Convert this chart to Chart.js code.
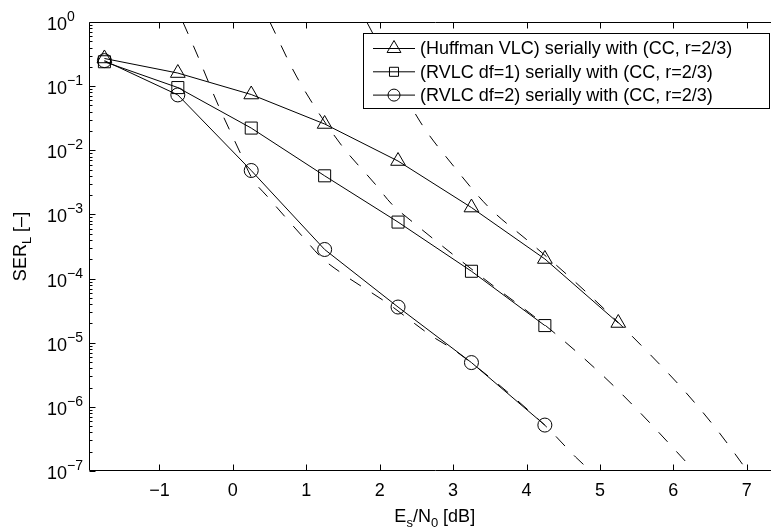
<!DOCTYPE html>
<html lang="en">
<head>
<meta charset="UTF-8">
<title>SER vs Es/N0</title>
<script src="https://cdn.jsdelivr.net/npm/chart.js"></script>
<style>
  html, body { margin: 0; padding: 0; background: #fff; overflow: hidden; }
  canvas { display: block; }
</style>
</head>
<body>
<canvas id="chart" width="790" height="530"></canvas>
<script>
// measured points, Es/N0 in dB
const snr = [-1.75, -0.75, 0.25, 1.25, 2.25, 3.25, 4.25, 5.25];
const serHuffman = [0.27, 0.16, 0.074, 0.0257, 0.0068, 0.00128, 2.02e-4, 2.03e-5];
const serRvlc1 = [0.24, 0.095, 0.0222, 0.0040, 7.6e-4, 1.3e-4, 1.85e-5];
const serRvlc2 = [0.25, 0.073, 0.00484, 2.84e-4, 3.6e-5, 4.9e-6, 5.2e-7];

// dashed bound curves
const boundHuffmanX = [1.824, 2.545, 2.994, 3.484, 4.042, 4.587, 5.131, 5.649, 6.152, 6.615, 7.01];
const boundHuffmanY = [1, 0.0286, 0.0059, 0.0013, 3.7e-4, 1.06e-4, 2.8e-5, 7.2e-6, 1.77e-6, 4.1e-7, 1e-7];
const boundRvlc1X = [0.504, 0.871, 1.456, 1.946, 2.164, 2.45, 3.389, 4.247, 5.05, 5.553, 6.288];
const boundRvlc1Y = [1, 0.139, 0.013, 0.0029, 0.00145, 7.6e-4, 1.06e-4, 1.9e-5, 3.0e-6, 8.0e-7, 1e-7];
const boundRvlc2X = [-0.681, -0.49, -0.218, 0.095, 0.259, 0.476, 0.966, 1.211, 1.497, 2.096, 2.709, 3.035, 4.247, 4.669, 4.873];
const boundRvlc2Y = [1, 0.317, 0.0566, 0.0094, 0.0037, 0.00187, 4.3e-4, 2.1e-4, 1.18e-4, 4.2e-5, 1.27e-5, 7.4e-6, 5.2e-7, 1.65e-7, 1e-7];

const seriesLabels = [
  '(Huffman VLC) serially with (CC, r=2/3)',
  '(RVLC df=1) serially with (CC, r=2/3)',
  '(RVLC df=2) serially with (CC, r=2/3)'
];
const xTicks = [-1, 0, 1, 2, 3, 4, 5, 6, 7];
const yExps = [0, -1, -2, -3, -4, -5, -6, -7];

const FONT = '"Liberation Sans", Arial, Helvetica, sans-serif';
const MINUS = '\u2212';
const fmt = v => (v < 0 ? MINUS + Math.abs(v) : String(v));

const pts = (xs, ys) => ys.map((v, i) => ({ x: xs[i], y: v }));

function seriesSet(label, data, style, radius) {
  return {
    label, data, showLine: true,
    borderColor: '#000', borderWidth: 1,
    pointStyle: style, pointRadius: radius,
    pointBorderColor: '#000', pointBorderWidth: 1,
    pointBackgroundColor: 'rgba(0,0,0,0)',
    legendRadius: style === 'rect' ? 6.4 : style === 'circle' ? 6 : 8
  };
}
function boundSet(data) {
  return {
    data, showLine: true, borderColor: '#000', borderWidth: 1,
    borderDash: [13, 13], pointRadius: 0, cubicInterpolationMode: 'monotone'
  };
}

// axes box, inward ticks, labels, titles and legend in matlab style
const matlabFrame = {
  id: 'matlabFrame',
  afterDraw(chart) {
    const { ctx, chartArea: a, scales: { x, y } } = chart;
    const L = Math.round(a.left) + 0.5, T = Math.round(a.top) + 0.5;
    const R = Math.round(a.right) + 0.5, B = Math.round(a.bottom) - 0.5;
    ctx.save();
    ctx.strokeStyle = '#000';
    ctx.lineWidth = 1;
    ctx.beginPath();
    ctx.moveTo(L, T); ctx.lineTo(R, T); ctx.lineTo(R, B); ctx.lineTo(L, B); ctx.closePath();
    xTicks.forEach(v => {
      const px = Math.round(x.getPixelForValue(v)) + 0.5;
      ctx.moveTo(px, B); ctx.lineTo(px, B - 6);
      ctx.moveTo(px, T); ctx.lineTo(px, T + 6);
    });
    yExps.forEach(e => {
      const py = Math.round(y.getPixelForValue(Math.pow(10, e))) + 0.5;
      ctx.moveTo(L, py); ctx.lineTo(L + 6, py);
      if (e > yExps[yExps.length - 1]) {
        for (let m = 2; m <= 9; m++) {
          const my = Math.round(y.getPixelForValue(m * Math.pow(10, e - 1))) + 0.5;
          ctx.moveTo(L, my); ctx.lineTo(L + 3, my);
        }
      }
    });
    ctx.stroke();

    ctx.fillStyle = '#000';
    // x tick labels
    ctx.font = '18px ' + FONT;
    ctx.textAlign = 'center';
    ctx.textBaseline = 'alphabetic';
    xTicks.forEach(v => ctx.fillText(fmt(v), x.getPixelForValue(v), 496));
    // y tick labels 10^e
    ctx.textAlign = 'left';
    yExps.forEach(e => {
      const py = y.getPixelForValue(Math.pow(10, e));
      ctx.font = '18px ' + FONT;
      ctx.fillText('10', 47, py + 8);
      const w = ctx.measureText('10').width;
      ctx.font = '14px ' + FONT;
      ctx.fillText(fmt(e), 47 + w, py - 1);
    });

    // x title  E_s/N_0 [dB]
    const xParts = [['E', 18, 0], ['s', 13, 5], ['/N', 18, 0], ['0', 13, 5], [' [dB]', 18, 0]];
    drawParts(ctx, xParts, (a.left + a.right) / 2, 522);
    // y title  SER_L [-]
    ctx.save();
    ctx.translate(26, (a.top + a.bottom) / 2);
    ctx.rotate(-Math.PI / 2);
    drawParts(ctx, [['SER', 18, 0], ['L', 13, 5], [' [\u2013]', 18, 0]], 0, 0);
    ctx.restore();

    // legend
    const bx = 363.5, by = 33.5, bw = 406, bh = 75;
    ctx.fillStyle = '#fff';
    ctx.fillRect(bx, by, bw, bh);
    ctx.strokeRect(bx, by, bw, bh);
    const sets = chart.data.datasets.filter(d => d.label);
    sets.forEach((d, i) => {
      const ry = 48.5 + i * 23.3;
      ctx.beginPath();
      ctx.moveTo(373, ry); ctx.lineTo(415, ry);
      ctx.stroke();
      ctx.fillStyle = 'rgba(0,0,0,0)';
      Chart.helpers.drawPoint(ctx, { pointStyle: d.pointStyle, radius: d.legendRadius, rotation: 0, borderWidth: 1 }, 394, ry);
      ctx.fillStyle = '#000';
      ctx.font = '18px ' + FONT;
      ctx.textAlign = 'left';
      ctx.textBaseline = 'middle';
      ctx.fillText(d.label, 420, ry + 1);
    });
    ctx.restore();
  }
};

function drawParts(ctx, parts, cx, baseY) {
  ctx.textAlign = 'left';
  ctx.textBaseline = 'alphabetic';
  let total = 0;
  parts.forEach(p => { ctx.font = p[1] + 'px ' + FONT; total += ctx.measureText(p[0]).width; });
  let px = cx - total / 2;
  parts.forEach(p => {
    ctx.font = p[1] + 'px ' + FONT;
    ctx.fillText(p[0], px, baseY + p[2]);
    px += ctx.measureText(p[0]).width;
  });
}

new Chart(document.getElementById('chart'), {
  type: 'scatter',
  data: {
    datasets: [
      seriesSet(seriesLabels[0], pts(snr, serHuffman), 'triangle', 8.5),
      seriesSet(seriesLabels[1], pts(snr, serRvlc1), 'rect', 8.5),
      seriesSet(seriesLabels[2], pts(snr, serRvlc2), 'circle', 7),
      boundSet(pts(boundHuffmanX, boundHuffmanY)),
      boundSet(pts(boundRvlc1X, boundRvlc1Y)),
      boundSet(pts(boundRvlc2X, boundRvlc2Y))
    ]
  },
  options: {
    responsive: false,
    animation: false,
    layout: { padding: { left: 89, top: 22, right: 9, bottom: 59 } },
    scales: {
      x: { type: 'linear', min: -1.96, max: 7.46, display: false },
      y: { type: 'logarithmic', min: 1e-7, max: 1, display: false }
    },
    plugins: { legend: { display: false }, tooltip: { enabled: false } }
  },
  plugins: [matlabFrame]
});
</script>
</body>
</html>
